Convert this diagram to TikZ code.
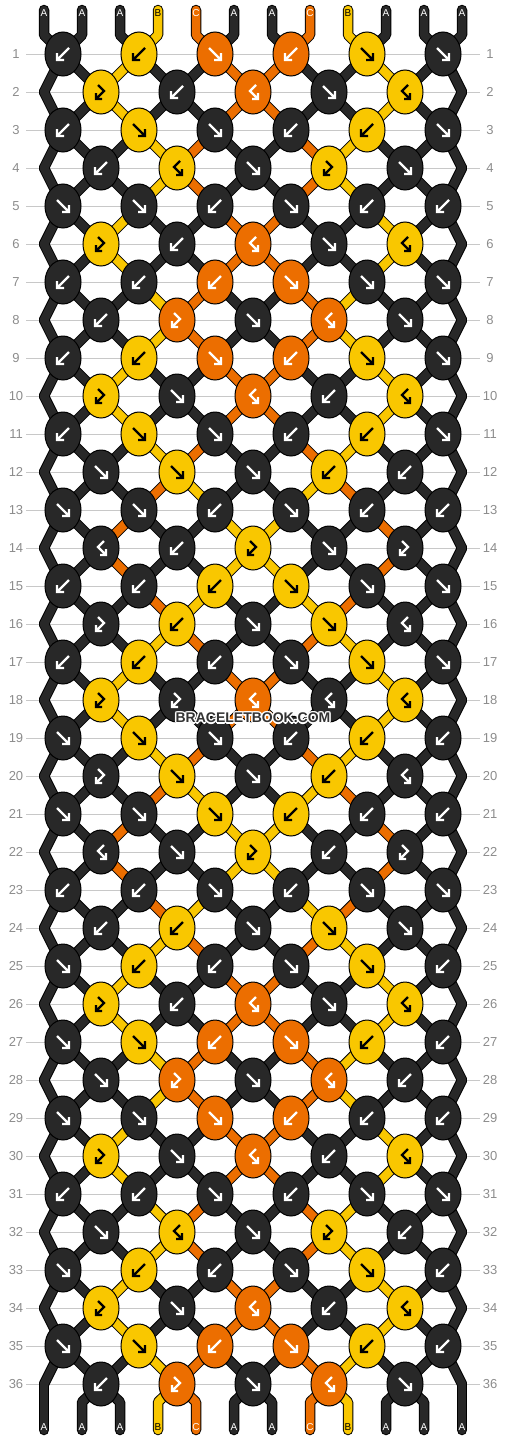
\documentclass[tikz,border=0pt]{standalone}
\usepackage{fontspec}
\setmainfont{Liberation Sans}
\usetikzlibrary{shapes.geometric}
\definecolor{cA}{RGB}{40,40,40}
\definecolor{cB}{RGB}{249,199,0}
\definecolor{cC}{RGB}{236,110,0}
\definecolor{gridgray}{RGB}{200,200,200}
\definecolor{numgray}{RGB}{140,140,140}
\definecolor{wmgray}{RGB}{50,50,50}
\colorlet{col0}{cA}\colorlet{col1}{cB}\colorlet{col2}{cC}
\colorlet{knotd}{cA}\colorlet{knoty}{cB}\colorlet{knoto}{cC}
\colorlet{arrd}{white}\colorlet{arry}{black}\colorlet{arro}{white}
\colorlet{lab0}{white}\colorlet{lab1}{black}\colorlet{lab2}{white}
% row -> pattern of string colours after that row
\def\Smap{{0,1,1,0,0,1,1,0,0,1,1,0,2,3,3,2,0,1,1,0,2,3,3,2,0,1,1,0,0,1,1,0,0,1,1,0,0}}
\def\Pat{{0,0,0,1,2,0,0,2,1,0,0,0, 0,0,1,0,0,2,2,0,0,1,0,0, 0,0,0,2,1,0,0,1,2,0,0,0, 0,0,2,0,0,1,1,0,0,2,0,0}}
\newcommand\strname[2]{%
  \ifodd#1 %
    \pgfmathtruncatemacro\sj{int(#2/2)}\edef\sname{k-#1-\sj}%
  \else
    \ifnum#2=0 \edef\sname{k-#1-L}%
    \else\ifnum#2=11 \edef\sname{k-#1-R}%
    \else\pgfmathtruncatemacro\sj{int((#2-1)/2)}\edef\sname{k-#1-\sj}%
    \fi\fi
  \fi}
\newcommand\drawstrands[1]{%
  \foreach \r in {1,...,35} {
    \pgfmathtruncatemacro\rn{\r+1}
    \pgfmathtruncatemacro\pp{\Smap[\r]}
    \foreach \i in {0,...,11} {
      \strname{\r}{\i}\let\snameA\sname
      \strname{\rn}{\i}\let\snameB\sname
      \pgfmathtruncatemacro\cc{\Pat[\pp*12+\i]}
      \ifnum#1=0 \draw[strout] (\snameA) -- (\snameB);
      \else \draw[strfill,draw=col\cc] (\snameA) -- (\snameB);\fi
    }
  }
  \foreach \i in {0,...,11} {
    \pgfmathtruncatemacro\cc{\Pat[\i]}
    \strname{1}{\i}\let\snameA\sname
    \strname{36}{\i}\let\snameB\sname
    \ifnum#1=0
      \draw[strout] (tt-\i) -- (tb-\i) -- (\snameA);
      \draw[strout] (\snameB) -- (bt-\i) -- (bb-\i);
    \else
      \draw[strfill,draw=col\cc] (tt-\i) -- (tb-\i) -- (\snameA);
      \draw[strfill,draw=col\cc] (\snameB) -- (bt-\i) -- (bb-\i);
    \fi
  }}
\newcommand\glyphF[2]{\begin{scope}[shift={(#2.center)}]\draw[arr,draw=#1] (-6,-6) -- (6,6) (6,-1) -- (6,6) -- (-1,6);\end{scope}}
\newcommand\glyphB[2]{\begin{scope}[shift={(#2.center)}]\draw[arr,draw=#1] (6,-6) -- (-6,6) (-6,-1) -- (-6,6) -- (1,6);\end{scope}}
\newcommand\glyphL[2]{\begin{scope}[shift={(#2.center)}]\draw[arr,draw=#1] (-3,-7) -- (3,-1) -- (-5,7) (-5,1) -- (-5,7) -- (1,7);\end{scope}}
\newcommand\glyphR[2]{\begin{scope}[shift={(#2.center)}]\draw[arr,draw=#1] (3,-7) -- (-3,-1) -- (5,7) (5,1) -- (5,7) -- (-1,7);\end{scope}}
\newcommand\knotrow[2]{%
  \foreach \c/\g [count=\j from 0] in {#2} {
    \node[knot,fill=knot\c] (n-#1-\j) at (k-#1-\j) {};
    \csname glyph\g\endcsname{arr\c}{n-#1-\j}
  }}
\begin{document}
\begin{tikzpicture}[x=0.5pt,y=-0.5pt,
  knot/.style={ellipse,draw=black,line width=0.5pt,minimum width=18pt,minimum height=22pt,inner sep=0pt},
  strout/.style={line width=5.25pt,draw=black,line cap=round,line join=round},
  strfill/.style={line width=4.25pt,line cap=round,line join=round},
  arr/.style={line width=1.15pt,line cap=butt,line join=miter},
  gridline/.style={draw=gridgray,line width=0.5pt},
  rownum/.style={text=numgray,font=\fontsize{6.5}{7}\selectfont,inner sep=0pt},
  strlab/.style={font=\fontsize{5}{6}\selectfont,inner sep=0pt},
  wmtext/.style={font=\bfseries\fontsize{7}{8}\selectfont,inner sep=0pt}]
\useasboundingbox (0,0) rectangle (506,1440);
% positions
\foreach \r in {1,...,36} {
  \pgfmathsetmacro\yy{54+38*(\r-1)}
  \ifodd\r
    \foreach \j in {0,...,5} {\coordinate (k-\r-\j) at ({63+76*\j},\yy);}
  \else
    \foreach \j in {0,...,4} {\coordinate (k-\r-\j) at ({101+76*\j},\yy);}
    \coordinate (k-\r-L) at (44,\yy);
    \coordinate (k-\r-R) at (462,\yy);
  \fi
  \draw[gridline] (26,\yy) -- (480,\yy);
  \node[rownum] (ln-\r) at (16,\yy) {\r};
  \node[rownum] (rn-\r) at (490,\yy) {\r};
}
\foreach \i in {0,...,11} {
  \coordinate (tt-\i) at ({44+38*\i},10);
  \coordinate (tb-\i) at ({44+38*\i},35);
  \coordinate (bt-\i) at ({44+38*\i},1402);
  \coordinate (bb-\i) at ({44+38*\i},1430);
}
% strings
\drawstrands{0}
\drawstrands{1}
% string labels
\foreach \t/\cc [count=\i from 0] in {A/0,A/0,A/0,B/1,C/2,A/0,A/0,C/2,B/1,A/0,A/0,A/0} {
  \node[strlab,text=lab\cc] (tl-\i) at ({44+38*\i},13) {\t};
  \node[strlab,text=lab\cc] (bl-\i) at ({44+38*\i},1427) {\t};
}
% knots
\knotrow{1}{d/B,y/B,o/F,o/B,y/F,d/F}
\knotrow{2}{y/L,d/B,o/R,d/F,y/R}
\knotrow{3}{d/B,y/F,d/F,d/B,y/B,d/F}
\knotrow{4}{d/B,y/R,d/F,y/L,d/F}
\knotrow{5}{d/F,d/F,d/B,d/F,d/B,d/B}
\knotrow{6}{y/L,d/B,o/R,d/F,y/R}
\knotrow{7}{d/B,d/B,o/B,o/F,d/F,d/F}
\knotrow{8}{d/B,o/L,d/F,o/R,d/F}
\knotrow{9}{d/B,y/B,o/F,o/B,y/F,d/F}
\knotrow{10}{y/L,d/F,o/R,d/B,y/R}
\knotrow{11}{d/B,y/F,d/F,d/B,y/B,d/F}
\knotrow{12}{d/F,y/F,d/F,y/B,d/B}
\knotrow{13}{d/F,d/F,d/B,d/F,d/B,d/B}
\knotrow{14}{d/R,d/B,y/L,d/F,d/L}
\knotrow{15}{d/B,d/B,y/B,y/F,d/F,d/F}
\knotrow{16}{d/L,y/B,d/F,y/F,d/R}
\knotrow{17}{d/B,y/B,d/B,d/F,y/F,d/F}
\knotrow{18}{y/L,d/L,o/R,d/R,y/R}
\knotrow{19}{d/F,y/F,d/F,d/B,y/B,d/B}
\knotrow{20}{d/L,y/F,d/F,y/B,d/R}
\knotrow{21}{d/F,d/F,y/F,y/B,d/B,d/B}
\knotrow{22}{d/R,d/F,y/L,d/B,d/L}
\knotrow{23}{d/B,d/B,d/F,d/B,d/F,d/F}
\knotrow{24}{d/B,y/B,d/F,y/F,d/F}
\knotrow{25}{d/F,y/B,d/B,d/F,y/F,d/B}
\knotrow{26}{y/L,d/B,o/R,d/F,y/R}
\knotrow{27}{d/F,y/F,o/B,o/F,y/B,d/B}
\knotrow{28}{d/F,o/L,d/F,o/R,d/B}
\knotrow{29}{d/F,d/F,o/F,o/B,d/B,d/B}
\knotrow{30}{y/L,d/F,o/R,d/B,y/R}
\knotrow{31}{d/B,d/B,d/F,d/B,d/F,d/F}
\knotrow{32}{d/F,y/R,d/F,y/L,d/B}
\knotrow{33}{d/F,y/B,d/B,d/F,y/F,d/B}
\knotrow{34}{y/L,d/F,o/R,d/B,y/R}
\knotrow{35}{d/F,y/F,o/B,o/F,y/B,d/B}
\knotrow{36}{d/B,o/L,d/F,o/R,d/F}
% watermark
\foreach \dx/\dy in {-1.5/0,1.5/0,0/-1.5,0/1.5,-1/-1,1/1,-1/1,1/-1} {
  \node[wmtext,text=white,xshift=\dx*0.5pt,yshift=\dy*0.5pt] at (253,718) {BRACELETBOOK.COM};
}
\node[wmtext,text=wmgray] (wm) at (253,718) {BRACELETBOOK.COM};
\end{tikzpicture}
\end{document}
